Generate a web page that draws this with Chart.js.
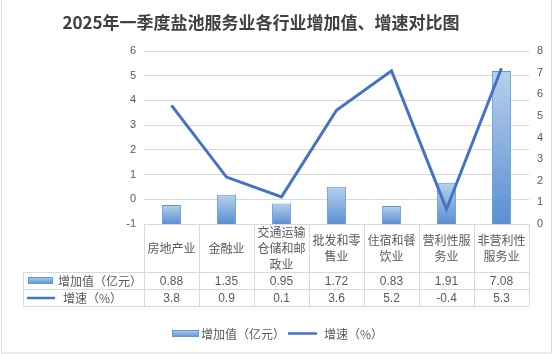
<!DOCTYPE html>
<html>
<head>
<meta charset="utf-8">
<script src="https://cdn.jsdelivr.net/npm/chart.js@4"></script>
<style>
html,body{margin:0;padding:0;background:#fff;}
#wrap{width:554px;height:354px;position:relative;}
</style>
</head>
<body>
<div id="wrap"><canvas id="c" width="554" height="354"></canvas></div>
<script>
const titleText = '2025年一季度盐池服务业各行业增加值、增速对比图';
const categories = [['房地产业'], ['金融业'], ['交通运输', '仓储和邮', '政业'], ['批发和零', '售业'], ['住宿和餐', '饮业'], ['营利性服', '务业'], ['非营利性', '服务业']];
const addedValue = [0.88, 1.35, 0.95, 1.72, 0.83, 1.91, 7.08];
const growthRate = [3.8, 0.9, 0.1, 3.6, 5.2, -0.4, 5.3];
const seriesNames = ['增加值（亿元）', '增速（%）'];
const leftTicks = [-1, 0, 1, 2, 3, 4, 5, 6];
const rightTicks = [0, 1, 2, 3, 4, 5, 6, 7, 8];

const CJK = '"Noto Sans CJK SC", "Noto Sans", sans-serif';
const NUM = '"Liberation Sans", "Noto Sans CJK SC", sans-serif';
const TXT = '#595959';
const LINE = '#4472C4';
const GRID = '#d9d9d9';

function barGradient(ctx, top, bottom) {
  const g = ctx.createLinearGradient(0, top, 0, bottom);
  g.addColorStop(0, '#b7d0ec');
  g.addColorStop(1, '#5a8fd3');
  return g;
}

const overlay = {
  id: 'overlay',
  beforeDraw(chart) {
    const c = chart.ctx;
    c.save();
    c.fillStyle = '#fff';
    c.fillRect(0, 0, chart.width, chart.height);
    c.restore();
  },
  afterDraw(chart) {
    const c = chart.ctx;
    const x = chart.scales.x;
    const area = chart.chartArea;
    const n = categories.length;
    const colW = (area.right - area.left) / n;
    c.save();
    // outer border
    c.strokeStyle = '#d9d9d9';
    c.lineWidth = 1;
    c.strokeRect(1.5, -1, 550, 354);
    // title
    c.fillStyle = '#404040';
    c.font = 'bold 17px ' + CJK;
    c.textAlign = 'center';
    c.textBaseline = 'middle';
    c.fillText(titleText, 261, 23);

    // table lines
    const tTop = area.bottom, hBot = 272, r1 = 289, r2 = 306, tLeft = 23;
    c.strokeStyle = GRID;
    c.lineWidth = 1;
    c.beginPath();
    c.moveTo(area.left, tTop + 0.5); c.lineTo(area.right, tTop + 0.5);
    [hBot, r1, r2].forEach(y => { c.moveTo(tLeft, y + 0.5); c.lineTo(area.right, y + 0.5); });
    c.moveTo(tLeft + 0.5, hBot); c.lineTo(tLeft + 0.5, r2);
    for (let i = 0; i <= n; i++) {
      const px = Math.round(x.getPixelForValue(i) - colW / 2) + 0.5;
      c.moveTo(px, tTop); c.lineTo(px, r2);
    }
    c.stroke();

    // header text
    c.fillStyle = TXT;
    c.font = '12px ' + CJK;
    c.textAlign = 'center';
    c.textBaseline = 'middle';
    const lh = 16;
    categories.forEach((lines, i) => {
      const cx = x.getPixelForValue(i);
      const y0 = (tTop + hBot) / 2 - (lines.length - 1) * lh / 2;
      lines.forEach((t, j) => c.fillText(t, cx, y0 + j * lh));
    });
    // values
    c.font = '12px ' + NUM;
    addedValue.forEach((v, i) => c.fillText(v.toFixed(2), x.getPixelForValue(i), (hBot + r1) / 2 + 1));
    growthRate.forEach((v, i) => c.fillText(v.toFixed(1), x.getPixelForValue(i), (r1 + r2) / 2 + 1));

    // row labels with swatches
    function barSwatch(x0, y0, w, h) {
      c.fillStyle = barGradient(c, y0, y0 + h);
      c.fillRect(x0, y0, w, h);
      c.strokeStyle = '#5b9bd5';
      c.lineWidth = 1;
      c.strokeRect(x0 + 0.5, y0 + 0.5, w - 1, h - 1);
    }
    function lineSwatch(x0, y0, w) {
      c.strokeStyle = LINE;
      c.lineWidth = 2.5;
      c.beginPath(); c.moveTo(x0, y0); c.lineTo(x0 + w, y0); c.stroke();
    }
    barSwatch(28, 277, 25, 7);
    lineSwatch(27, 298, 28);
    c.fillStyle = TXT;
    c.font = '12px ' + CJK;
    c.textAlign = 'left';
    c.fillText(seriesNames[0], 58, 281);
    c.fillText(seriesNames[1], 63, 298);

    // bottom legend
    barSwatch(172, 330, 27, 7);
    lineSwatch(288, 333.5, 29);
    c.fillStyle = TXT;
    c.fillText(seriesNames[0], 201, 334);
    c.fillText(seriesNames[1], 324, 334);
    c.restore();
  }
};

new Chart(document.getElementById('c'), {
  data: {
    labels: categories,
    datasets: [
      {
        type: 'line',
        label: seriesNames[1],
        data: growthRate,
        yAxisID: 'y',
        borderColor: LINE,
        borderWidth: 3,
        tension: 0,
        pointRadius: 0,
        order: 0
      },
      {
        type: 'bar',
        label: seriesNames[0],
        data: addedValue,
        yAxisID: 'y1',
        backgroundColor: (ctx) => {
          const chart = ctx.chart;
          if (!chart.chartArea || ctx.parsed == null) return '#7fa9dc';
          const s = chart.scales.y1;
          const top = s.getPixelForValue(ctx.parsed.y);
          const bottom = s.getPixelForValue(0);
          return barGradient(chart.ctx, top, bottom);
        },
        borderColor: '#5b9bd5',
        borderWidth: 1,
        barPercentage: 0.35,
        categoryPercentage: 1,
        order: 1
      }
    ]
  },
  options: {
    responsive: false,
    animation: false,
    layout: { padding: { top: 51, bottom: 130, left: 0, right: 0 } },
    plugins: { legend: { display: false }, tooltip: { enabled: false }, title: { display: false } },
    scales: {
      x: { display: false, offset: true, grid: { display: false } },
      y: {
        position: 'left',
        min: -1, max: 6,
        afterBuildTicks: (s) => { s.ticks = leftTicks.map(v => ({ value: v })); },
        ticks: { color: TXT, font: { size: 11, family: NUM }, padding: 8 },
        grid: { color: GRID, drawTicks: false, lineWidth: 1 },
        border: { display: false },
        afterFit: (s) => { s.width = 144; }
      },
      y1: {
        position: 'right',
        min: 0, max: 8,
        afterBuildTicks: (s) => { s.ticks = rightTicks.map(v => ({ value: v })); },
        ticks: { color: TXT, font: { size: 11, family: NUM }, padding: 8 },
        grid: { display: false, drawTicks: false },
        border: { display: false },
        afterFit: (s) => { s.width = 25; }
      }
    }
  },
  plugins: [overlay]
});
</script>
</body>
</html>
